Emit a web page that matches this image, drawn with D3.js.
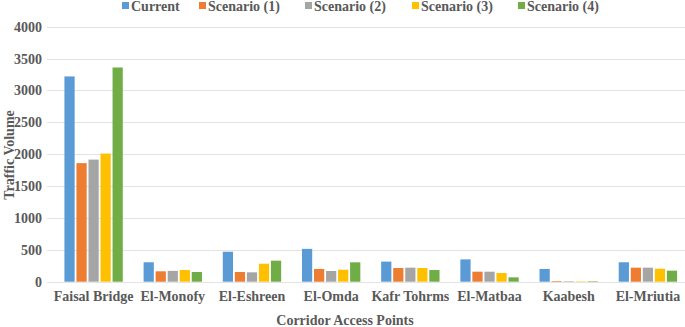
<!DOCTYPE html>
<html><head><meta charset="utf-8">
<script src="https://cdn.jsdelivr.net/npm/d3@7"></script>
<style>body{margin:0;background:#fff}svg{display:block}
svg text{font-family:"Liberation Serif","Times New Roman",serif;font-weight:bold;font-size:14px;fill:#595959}
</style>
</head><body>
<svg id="c" width="685" height="327"></svg>
<script>
const categories = ["Faisal Bridge","El-Monofy","El-Eshreen","El-Omda","Kafr Tohrms","El-Matbaa","Kaabesh","El-Mriutia"];
const seriesNames = ["Current","Scenario (1)","Scenario (2)","Scenario (3)","Scenario (4)"];
const current   = [3220, 305, 470, 515, 315, 350, 200, 305];
const scenario1 = [1860, 163, 152, 200, 215, 157, 10, 220];
const scenario2 = [1915, 170, 147, 168, 220, 157, 8, 220];
const scenario3 = [2010, 183, 282, 188, 215, 136, 6, 204];
const scenario4 = [3360, 152, 330, 304, 183, 68, 8, 173];
const yTicks = [0,500,1000,1500,2000,2500,3000,3500,4000];
const colors = ["#5B9BD5","#ED7D31","#A5A5A5","#FFC000","#70AD47"];
const series = [current, scenario1, scenario2, scenario3, scenario4];

const svg = d3.select("#c");

const y = d3.scaleLinear().domain([0,4000]).range([281.7, 26.7]);
const x0 = d3.scaleBand().domain(categories).range([54, 687.5]).paddingInner(0.263).paddingOuter(0.1315);
const x1 = d3.scaleBand().domain(d3.range(seriesNames.length)).range([0, x0.bandwidth()]).paddingInner(0.15);

// gridlines
svg.append("g").selectAll("line").data(yTicks).join("line")
  .attr("x1", 47).attr("x2", 685)
  .attr("y1", d => Math.round(y(d))+0.5).attr("y2", d => Math.round(y(d))+0.5)
  .attr("stroke", "#e3e3e3").attr("stroke-width", 1);

// y axis labels
const yAxis = d3.axisLeft(y).tickValues(yTicks).tickFormat(d3.format("d")).tickSize(0).tickPadding(0);
const ga = svg.append("g").attr("transform", "translate(42,0)").call(yAxis);
ga.attr("font-family", null).attr("font-size", null);
ga.select(".domain").remove();

// bars
const g = svg.append("g");
categories.forEach((c, i) => {
  series.forEach((s, j) => {
    g.append("rect")
      .attr("x", x0(c) + x1(j))
      .attr("y", y(s[i]))
      .attr("width", x1.bandwidth())
      .attr("height", y(0) - y(s[i]))
      .attr("fill", colors[j]);
  });
});

// x axis labels
const xAxis = d3.axisBottom(x0).tickSize(0).tickPadding(0);
const gx = svg.append("g").attr("transform", "translate(0,291)").call(xAxis);
gx.attr("font-family", null).attr("font-size", null);
gx.select(".domain").remove();

// axis titles
svg.append("text").attr("x", 345).attr("y", 325).attr("text-anchor", "middle")
  .text("Corridor Access Points");
svg.append("text").attr("transform", "translate(14,155) rotate(-90)").attr("text-anchor", "middle")
  .text("Traffic Volume");

// legend
const legX = [122, 199, 305, 412, 518];
const lg = svg.append("g");
seriesNames.forEach((n, j) => {
  lg.append("rect").attr("x", legX[j]).attr("y", 2).attr("width", 7).attr("height", 7).attr("fill", colors[j]);
  lg.append("text").attr("x", legX[j] + 9).attr("y", 11).text(n);
});
</script>
</body></html>
